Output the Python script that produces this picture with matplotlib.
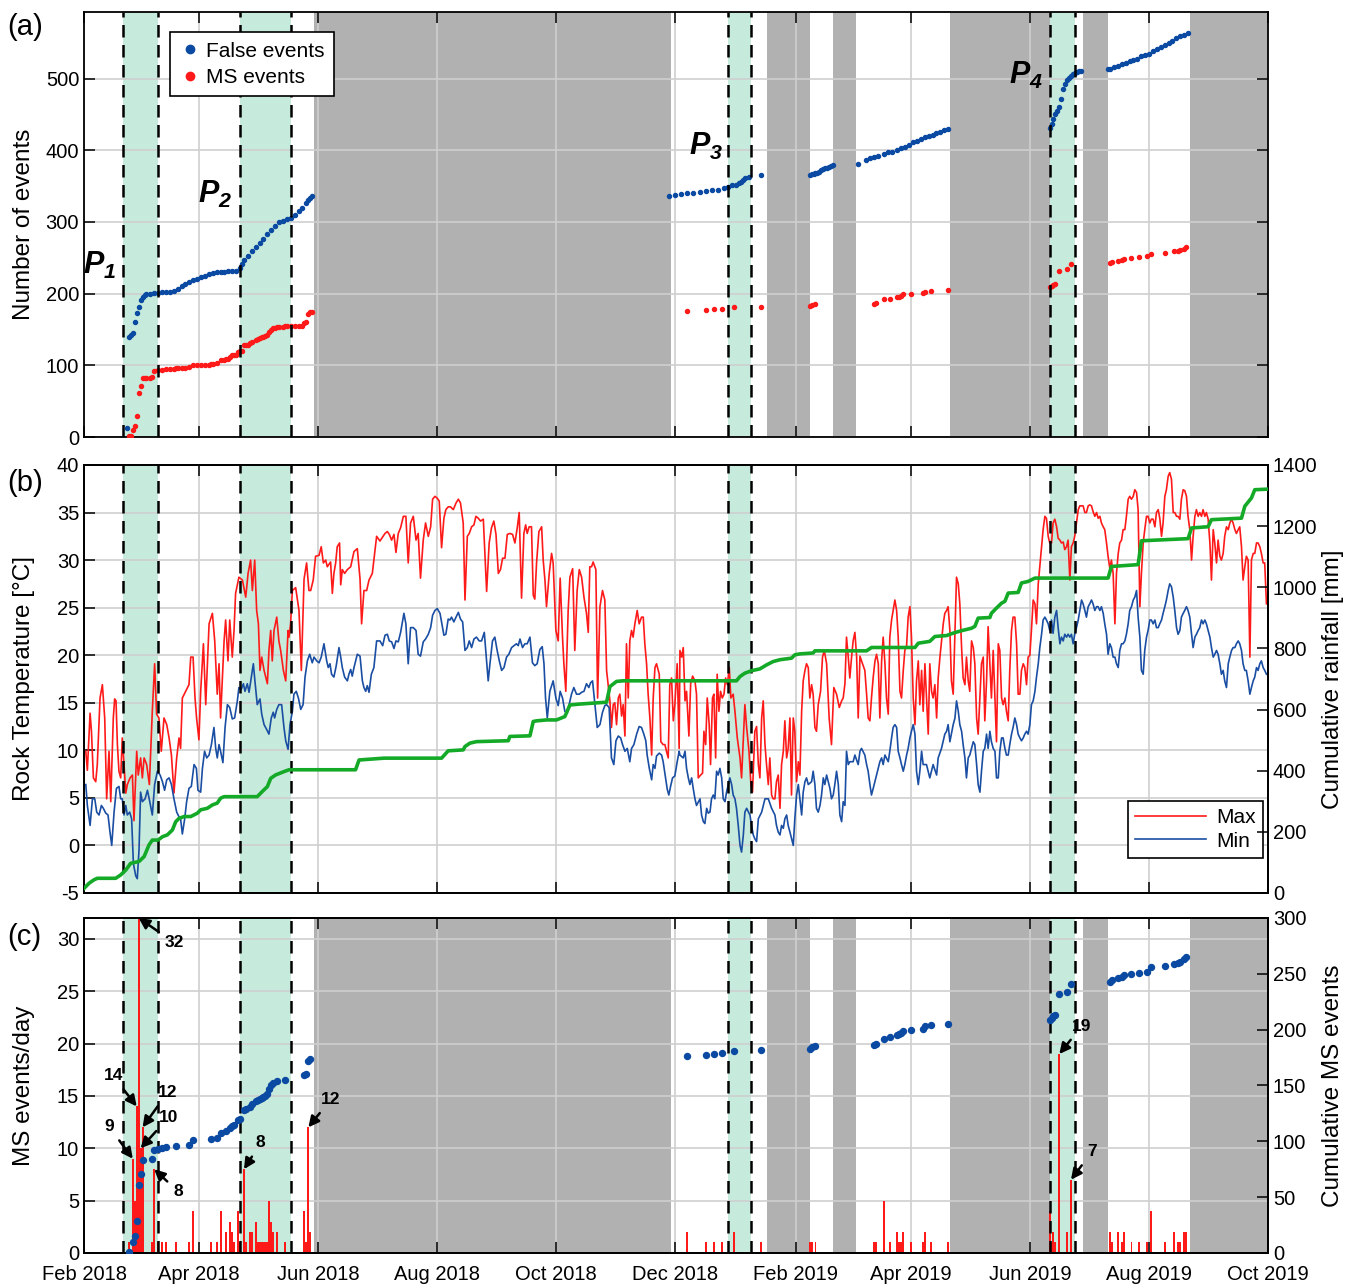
import numpy as np
import pandas as pd
import matplotlib
matplotlib.use('Agg')
import matplotlib.pyplot as plt
import matplotlib.dates as mdates
from matplotlib.lines import Line2D

plt.rcParams['font.family'] = ['Liberation Sans', 'DejaVu Sans']
plt.rcParams['mathtext.fontset'] = 'custom'
plt.rcParams['mathtext.bf'] = 'Liberation Sans:bold:italic'
plt.rcParams['axes.unicode_minus'] = False
plt.rcParams['axes.linewidth'] = 1.3

start = pd.Timestamp('2018-02-01')
end = pd.Timestamp('2019-10-01')

# monitoring periods P1..P4 and gaps in the record
periods = [('2018-02-21', '2018-03-11'), ('2018-04-22', '2018-05-18'),
           ('2018-12-28', '2019-01-09'), ('2019-06-11', '2019-06-24')]
gaps = [('2018-05-30', '2018-11-29'), ('2019-01-17', '2019-02-08'),
        ('2019-02-20', '2019-03-04'), ('2019-04-21', '2019-06-11'),
        ('2019-06-28', '2019-07-11'), ('2019-08-22', '2019-10-01')]
period_labels = [('1', '2018-02-09', 240), ('2', '2018-04-09', 338),
                 ('3', '2018-12-17', 405), ('4', '2019-05-30', 505)]

# daily MS event counts
ms_dates = ['2018-02-24', '2018-02-26', '2018-02-27', '2018-02-28', '2018-03-01', '2018-03-02',
            '2018-03-03', '2018-03-08', '2018-03-09', '2018-03-11', '2018-03-13', '2018-03-15',
            '2018-03-20', '2018-03-27', '2018-03-29', '2018-04-07', '2018-04-10', '2018-04-12',
            '2018-04-15', '2018-04-17', '2018-04-18', '2018-04-19', '2018-04-21', '2018-04-22',
            '2018-04-24', '2018-04-25', '2018-04-27', '2018-04-28', '2018-04-30', '2018-05-01',
            '2018-05-02', '2018-05-03', '2018-05-04', '2018-05-05', '2018-05-06', '2018-05-07',
            '2018-05-08', '2018-05-09', '2018-05-11', '2018-05-15', '2018-05-25', '2018-05-26',
            '2018-05-27', '2018-05-28',
            '2018-12-07', '2018-12-17', '2018-12-21', '2018-12-25', '2018-12-31', '2019-01-14',
            '2019-02-08', '2019-02-09', '2019-02-11',
            '2019-03-13', '2019-03-14', '2019-03-18', '2019-03-21', '2019-03-25', '2019-03-26',
            '2019-03-27', '2019-03-28', '2019-04-01', '2019-04-07', '2019-04-08', '2019-04-11',
            '2019-04-20',
            '2019-06-11', '2019-06-12', '2019-06-13', '2019-06-14', '2019-06-16', '2019-06-20',
            '2019-06-22',
            '2019-07-12', '2019-07-13', '2019-07-16', '2019-07-18', '2019-07-19', '2019-07-23',
            '2019-07-27', '2019-07-31', '2019-08-02', '2019-08-09', '2019-08-14', '2019-08-16',
            '2019-08-17', '2019-08-19', '2019-08-20']
ms_counts = [1, 9, 5, 14, 32, 10, 12, 1, 8, 1, 1, 1, 1, 1, 4, 1, 1, 4, 2, 3, 2, 1, 4, 1,
             8, 1, 2, 2, 3, 1, 1, 1, 1, 1, 1, 5, 3, 2, 2, 1, 4, 1, 12, 2,
             2, 1, 1, 1, 2, 1, 1, 1, 1,
             1, 1, 5, 1, 2, 1, 1, 2, 1, 1, 2, 1, 1,
             4, 1, 2, 1, 19, 2, 7,
             2, 1, 2, 1, 2, 1, 1, 1, 4, 1, 2, 1, 1, 2, 2]

# labelled peaks: date, text offset (points)
ms_notes = [('2018-02-26', -17, 23), ('2018-02-28', -17, 22), ('2018-03-01', 26, -18),
            ('2018-03-02', 20, 22), ('2018-03-03', 18, 25), ('2018-03-09', 17, -16),
            ('2018-04-24', 12, 19), ('2018-05-27', 16, 20), ('2019-06-16', 16, 20),
            ('2019-06-22', 15, 20)]

# cumulative false events
fe_dates = ['2018-02-23', '2018-02-24', '2018-02-25', '2018-02-26', '2018-02-27', '2018-02-28',
            '2018-03-01', '2018-03-02', '2018-03-03', '2018-03-04', '2018-03-05', '2018-03-07',
            '2018-03-09', '2018-03-11', '2018-03-13', '2018-03-15', '2018-03-17', '2018-03-19',
            '2018-03-21', '2018-03-23', '2018-03-25', '2018-03-27', '2018-03-29', '2018-03-31',
            '2018-04-02', '2018-04-04', '2018-04-06', '2018-04-08', '2018-04-10', '2018-04-12',
            '2018-04-14', '2018-04-16', '2018-04-18', '2018-04-20', '2018-04-22', '2018-04-23',
            '2018-04-24', '2018-04-26', '2018-04-28', '2018-04-30', '2018-05-02', '2018-05-04',
            '2018-05-06', '2018-05-08', '2018-05-10', '2018-05-12', '2018-05-14', '2018-05-16',
            '2018-05-18', '2018-05-20', '2018-05-22', '2018-05-24', '2018-05-26', '2018-05-27',
            '2018-05-28', '2018-05-29',
            '2018-11-28', '2018-12-01', '2018-12-04', '2018-12-07', '2018-12-10', '2018-12-14',
            '2018-12-17', '2018-12-20', '2018-12-23', '2018-12-26', '2018-12-28', '2018-12-30',
            '2019-01-01', '2019-01-03', '2019-01-04', '2019-01-05', '2019-01-06', '2019-01-08',
            '2019-01-14',
            '2019-02-08', '2019-02-09', '2019-02-10', '2019-02-11', '2019-02-12', '2019-02-13',
            '2019-02-14', '2019-02-15', '2019-02-16', '2019-02-17', '2019-02-18', '2019-02-19',
            '2019-02-20',
            '2019-03-05', '2019-03-09', '2019-03-11', '2019-03-13', '2019-03-15', '2019-03-18',
            '2019-03-20', '2019-03-22', '2019-03-25', '2019-03-27', '2019-03-29', '2019-03-31',
            '2019-04-02', '2019-04-04', '2019-04-06', '2019-04-08', '2019-04-10', '2019-04-12',
            '2019-04-14', '2019-04-16', '2019-04-18', '2019-04-20',
            '2019-06-11', '2019-06-12', '2019-06-13', '2019-06-14', '2019-06-15', '2019-06-16',
            '2019-06-17', '2019-06-18', '2019-06-19', '2019-06-20', '2019-06-21', '2019-06-22',
            '2019-06-23', '2019-06-24', '2019-06-25', '2019-06-26', '2019-06-27',
            '2019-07-11', '2019-07-12', '2019-07-14', '2019-07-16', '2019-07-18', '2019-07-20',
            '2019-07-22', '2019-07-24', '2019-07-26', '2019-07-28', '2019-07-30', '2019-08-01',
            '2019-08-03', '2019-08-05', '2019-08-07', '2019-08-09', '2019-08-11', '2019-08-13',
            '2019-08-15', '2019-08-17', '2019-08-19', '2019-08-21']
fe_counts = [12, 140, 142, 145, 160, 173, 181, 191, 196, 198, 200, 200,
             201, 201, 202, 202, 203, 204, 207, 210, 213, 216, 219, 220,
             223, 225, 227, 229, 230, 230, 230, 231, 231, 232, 236, 242,
             247, 253, 259, 265, 270, 276, 283, 289, 294, 300, 302, 304,
             306, 310, 315, 319, 326, 330, 333, 336,
             336, 337, 339, 340, 341, 342, 343, 344, 345, 347, 349, 351,
             352, 354, 356, 359, 361, 363, 365,
             366, 367, 367, 368, 369, 370, 372, 374, 375, 376, 377, 378, 379,
             381, 387, 389, 391, 392, 395, 397, 398, 401, 403, 405, 408,
             411, 413, 416, 418, 420, 422, 424, 426, 428, 430,
             431, 437, 443, 450, 455, 461, 472, 485, 492, 498, 501, 503,
             506, 508, 509, 510, 511,
             513, 514, 516, 518, 521, 522, 524, 526, 528, 531, 533, 535,
             538, 541, 544, 547, 550, 553, 556, 559, 561, 564]

# rock temperature, (days after 1 Feb 2018, degC)
tmax_pts = [
    (0.9, 9.9), (1.7, 7.9), (3.1, 13.9), (3.8, 12.0), (4.8, 7.1), (6.0, 6.7), (6.8, 8.5), (8.2, 15.5),
    (9.4, 16.9), (10.6, 13.4), (11.6, 4.9), (12.8, 9.9), (13.7, 4.6), (15.0, 13.4), (15.7, 15.4),
    (16.4, 15.2), (17.1, 10.6), (17.9, 7.8), (18.8, 7.1), (19.6, 11.3), (20.5, 8.5), (21.4, 5.5),
    (22.2, 6.4), (23.6, 7.1), (24.8, 7.4), (25.6, 2.6), (27.0, 9.9), (27.8, 7.4), (29.0, 9.2),
    (29.9, 7.1), (30.8, 9.2), (32.1, 8.5), (33.5, 6.4), (35.0, 14.1), (36.2, 19.1), (37.2, 13.8),
    (38.4, 13.4), (39.6, 9.9), (41.0, 13.4), (42.4, 12.7), (43.6, 11.3), (44.8, 9.5), (46.1, 5.5),
    (47.5, 9.2), (48.7, 11.3), (49.5, 10.2), (50.4, 15.5), (52.1, 16.2), (53.8, 16.9), (54.7, 19.8),
    (55.9, 19.8), (56.9, 15.5), (57.7, 13.4), (58.9, 11.1), (59.8, 16.2), (61.2, 21.2), (62.4, 14.8),
    (64.1, 23.3), (65.8, 24.4), (67.0, 21.5), (68.3, 15.9), (69.2, 19.1), (70.0, 13.4), (71.8, 21.5),
    (72.6, 23.7), (73.8, 19.4), (74.7, 23.7), (76.0, 19.8), (76.9, 22.6), (77.7, 26.5), (79.4, 28.2),
    (81.2, 27.9), (82.9, 26.1), (84.1, 28.6), (85.4, 30.0), (86.3, 26.8), (87.5, 30.0), (88.5, 24.7),
    (89.4, 23.3), (90.2, 18.4), (91.1, 19.8), (92.3, 18.4), (94.0, 17.0), (94.8, 20.5), (95.7, 22.6),
    (96.5, 19.4), (97.4, 22.6), (98.8, 24.0), (99.9, 21.5), (100.8, 20.5), (102.2, 18.4), (103.4, 17.3),
    (104.6, 22.6), (105.1, 21.9), (105.9, 23.3), (106.8, 26.8), (108.5, 27.1), (110.2, 24.7),
    (111.4, 18.4), (112.8, 28.0), (114.1, 29.7), (115.3, 26.8), (116.2, 26.8), (117.5, 27.9),
    (118.7, 30.4), (120.5, 30.5), (121.6, 31.4), (122.7, 29.7), (123.9, 30.0), (124.7, 29.3),
    (126.4, 29.8), (127.3, 26.5), (128.1, 28.6), (129.0, 29.7), (129.8, 31.4), (131.0, 31.8),
    (131.6, 27.4), (132.4, 29.0), (133.6, 28.6), (135.0, 29.0), (136.7, 29.3), (138.4, 30.9),
    (140.1, 31.2), (141.5, 28.0), (142.3, 23.3), (143.5, 26.8), (144.9, 26.8), (146.1, 27.9),
    (147.8, 28.6), (148.6, 30.0), (150.0, 32.5),
    (151.7, 32.0), (154.3, 32.8), (155.5, 33.0), (156.5, 32.7), (157.7, 32.1), (158.9, 32.7),
    (159.9, 30.8), (161.1, 32.8), (162.3, 33.4), (163.7, 34.6), (165.0, 34.6), (166.2, 29.7),
    (167.4, 33.9), (168.8, 34.6), (170.2, 32.1), (171.3, 32.8), (172.5, 28.1), (173.9, 32.1),
    (175.1, 33.9), (176.5, 32.5), (177.7, 33.5), (178.7, 36.4), (179.9, 36.7), (181.1, 36.5),
    (182.1, 36.2), (183.3, 31.3), (184.5, 34.4), (185.5, 35.3), (186.7, 35.6), (187.9, 35.6),
    (189.3, 35.3), (190.7, 36.0), (191.9, 36.4), (193.0, 36.0), (194.4, 33.9), (195.3, 25.8),
    (196.5, 32.5), (197.5, 32.8), (198.7, 33.5), (199.9, 33.7), (200.9, 34.6), (202.1, 34.4),
    (203.3, 34.1), (204.7, 34.3), (206.4, 26.7), (207.7, 31.8), (208.9, 33.4), (210.1, 34.1),
    (211.2, 32.7), (212.4, 28.6), (213.5, 29.0), (214.6, 30.2), (215.8, 30.2), (217.0, 32.7),
    (218.3, 32.8), (219.7, 32.7), (220.9, 31.8), (222.1, 33.4), (223.1, 35.0), (224.3, 26.0),
    (225.5, 32.8), (226.4, 33.7), (227.2, 32.8), (228.2, 33.5), (229.4, 33.5), (230.3, 26.3),
    (231.1, 25.9), (232.0, 29.7), (233.2, 33.0), (234.6, 33.5), (235.4, 30.0), (236.3, 27.9),
    (237.1, 25.1), (238.5, 28.6), (239.7, 30.7), (240.5, 29.7), (241.9, 22.6), (243.1, 21.5),
    (244.1, 28.1), (245.3, 21.9), (246.0, 19.1), (247.0, 16.2), (248.2, 24.7), (249.1, 28.2),
    (250.5, 29.1), (251.6, 20.5), (252.8, 26.8), (253.9, 29.0), (255.1, 28.2), (256.3, 26.1),
    (257.6, 24.4), (258.5, 22.4), (259.3, 29.3), (260.2, 29.3), (261.0, 29.8), (262.4, 29.0),
    (263.3, 15.5), (264.5, 25.1), (265.8, 26.8), (267.0, 25.8), (267.9, 18.4), (269.6, 15.2),
    (270.4, 12.4), (271.3, 14.8), (272.1, 15.0), (273.0, 12.7), (273.9, 15.5), (274.7, 15.9),
    (275.6, 13.6), (276.4, 14.8), (277.3, 11.5), (278.1, 21.2), (279.0, 15.5), (279.8, 21.5),
    (280.7, 22.6), (281.5, 21.9), (282.4, 23.3), (283.6, 24.7), (284.6, 23.3), (285.8, 24.0),
    (286.7, 24.0), (287.5, 21.2), (288.4, 19.1), (289.2, 15.9), (290.1, 13.4), (291.0, 9.5),
    (291.8, 15.5), (292.7, 18.7), (293.5, 19.1), (294.9, 18.0), (295.7, 10.9), (296.9, 10.6),
    (297.8, 10.6), (298.6, 9.9), (299.5, 9.2), (300.3, 16.9), (301.2, 17.6), (302.1, 13.1),
    (302.9, 14.8), (304.1, 19.1), (305.1, 10.2),
    (305.5, 20.5), (306.4, 19.8), (307.2, 20.8), (308.1, 15.2), (308.9, 16.2), (310.1, 11.5),
    (311.0, 17.0), (312.0, 17.8), (313.2, 17.3), (314.0, 15.9), (314.9, 7.1), (316.1, 7.4),
    (317.1, 7.6), (317.8, 12.0), (318.7, 10.6), (319.5, 15.5), (320.5, 12.7), (321.2, 8.5),
    (322.2, 15.5), (322.9, 15.9), (323.8, 9.2), (324.6, 18.0), (325.5, 14.1), (326.3, 16.2),
    (327.2, 15.5), (328.1, 15.9), (328.9, 17.6), (329.8, 16.9), (330.8, 18.7), (331.6, 15.5),
    (332.8, 15.9), (333.7, 14.1), (334.9, 11.3), (336.3, 9.2), (337.1, 7.1), (338.0, 11.3),
    (338.8, 14.8), (339.7, 12.4), (340.9, 9.9), (341.9, 6.4), (342.7, 5.6), (343.9, 12.0),
    (344.8, 12.5), (345.7, 8.5), (346.5, 7.1), (347.4, 13.4), (348.2, 15.2), (349.1, 10.6),
    (349.9, 8.5), (350.8, 6.4), (351.6, 9.2), (352.5, 5.3), (353.3, 4.9), (354.2, 4.9),
    (355.0, 6.7), (355.9, 7.4), (356.8, 3.9), (357.6, 8.5), (358.5, 9.9), (359.3, 13.1),
    (360.2, 9.2), (361.0, 10.2), (361.9, 13.4), (362.7, 5.3), (363.6, 13.4), (364.4, 12.0),
    (365.3, 6.7), (366.2, 8.8), (367.0, 7.4), (367.9, 14.1), (368.7, 17.3), (369.6, 18.4),
    (370.4, 19.1), (371.3, 18.7), (372.1, 15.5), (373.0, 16.9), (373.8, 15.9), (374.7, 12.4),
    (375.5, 12.0), (376.4, 14.8), (377.6, 16.2), (378.6, 19.8), (379.5, 20.5), (380.7, 19.1),
    (382.0, 13.4), (383.2, 10.6), (384.4, 16.6), (385.8, 15.9), (387.2, 14.5), (388.4, 15.2),
    (389.2, 15.5), (390.1, 17.0), (390.9, 21.9), (391.8, 19.8), (392.6, 17.6), (393.5, 19.8),
    (394.3, 21.5), (395.2, 22.4), (396.1, 19.8), (396.9, 13.4), (397.8, 19.9), (399.1, 19.1),
    (400.3, 18.4), (401.2, 15.9), (402.0, 13.4), (402.9, 13.1), (403.7, 15.5), (404.6, 17.7),
    (405.5, 19.4), (406.3, 20.1), (407.2, 19.1), (408.0, 13.4), (408.9, 19.4), (409.7, 21.9),
    (410.6, 19.1), (411.4, 15.5), (412.3, 13.8), (413.1, 21.9), (414.0, 23.7), (414.8, 24.7),
    (415.7, 25.8), (416.6, 24.7), (417.4, 21.9), (418.3, 16.2), (419.1, 15.5), (420.0, 18.4),
    (420.8, 20.5), (421.7, 21.0), (422.5, 24.0), (423.4, 25.1), (424.2, 21.9), (425.1, 15.5),
    (426.0, 12.7), (426.8, 17.3), (427.7, 19.4), (428.5, 14.8), (429.4, 18.4), (430.2, 14.1),
    (431.1, 19.1), (431.9, 15.5), (432.8, 11.7), (433.6, 19.1), (434.5, 16.2), (435.3, 15.5),
    (436.2, 16.9), (437.1, 13.4), (437.9, 17.6), (438.8, 19.8), (439.6, 21.5), (440.5, 23.3),
    (441.3, 24.4), (442.2, 24.7), (443.0, 25.1), (443.9, 22.6), (444.7, 17.3), (445.6, 15.9),
    (446.5, 22.6), (447.3, 28.2), (448.2, 27.5), (449.0, 25.4), (449.9, 20.8), (450.7, 17.6),
    (451.6, 16.9), (452.4, 19.8), (453.3, 17.3), (454.1, 16.2), (455.0, 21.5), (455.9, 20.8),
    (456.7, 19.1), (457.6, 13.4), (458.4, 11.7), (459.3, 15.5), (460.1, 19.1), (461.0, 19.8),
    (461.8, 13.1), (462.7, 17.3), (463.5, 23.0), (464.4, 19.1), (465.2, 15.5), (466.1, 20.5),
    (467.0, 15.5), (467.8, 10.9), (468.7, 21.2), (469.5, 20.5), (470.4, 15.5), (471.2, 14.8),
    (472.1, 15.5), (472.9, 14.1), (473.8, 13.1), (474.6, 18.4), (475.5, 22.6), (476.3, 24.0),
    (477.2, 24.0), (478.1, 21.2), (478.9, 15.9), (479.8, 15.9), (480.6, 18.4), (481.5, 19.1),
    (482.3, 18.7), (483.2, 16.9), (484.0, 19.8), (484.9, 20.0), (485.7, 22.6), (486.6, 25.8),
    (487.5, 25.4), (488.3, 23.3), (489.2, 27.5), (490.0, 29.3), (490.9, 31.4), (491.7, 33.2),
    (492.6, 34.6), (493.4, 34.4), (494.3, 32.5), (495.1, 31.8), (496.0, 31.8), (496.8, 33.9),
    (497.7, 34.3), (498.6, 33.5), (499.4, 32.3), (500.3, 32.1), (501.1, 31.8), (502.0, 31.9),
    (502.8, 31.1), (503.7, 31.4), (504.5, 32.1), (505.4, 27.9), (506.2, 31.4), (507.1, 31.8),
    (507.9, 32.5), (508.8, 33.9), (509.7, 35.3), (510.5, 35.7), (511.4, 35.7), (512.2, 35.7),
    (513.1, 35.0), (513.9, 35.0), (514.8, 35.7), (515.6, 35.8), (516.5, 35.7), (517.3, 35.1),
    (518.2, 34.6), (519.1, 35.0), (519.9, 34.4), (520.8, 34.6), (521.6, 33.9), (522.5, 33.5),
    (523.3, 33.2), (524.2, 31.8), (525.0, 30.4), (525.9, 29.1), (526.7, 30.0), (527.6, 28.6),
    (528.5, 23.3), (529.3, 28.6), (530.2, 30.7), (531.0, 31.8), (531.9, 32.1), (532.7, 33.2),
    (533.6, 33.2), (534.4, 34.6), (535.3, 36.4), (536.1, 36.7), (537.0, 36.4), (537.9, 36.7),
    (538.7, 37.4), (539.6, 37.1), (540.4, 35.3), (541.3, 25.1), (542.1, 28.6), (543.0, 31.8),
    (543.8, 33.2), (544.7, 34.6), (545.5, 34.6), (546.4, 33.9), (547.2, 34.3), (548.1, 34.3),
    (549.0, 33.5), (549.8, 35.0), (550.7, 35.3), (551.5, 34.4), (552.4, 32.5), (553.2, 33.9),
    (554.1, 36.7), (554.9, 37.4), (555.8, 38.8), (556.6, 39.2), (557.5, 38.5), (558.4, 35.0),
    (559.2, 35.0), (560.1, 34.6), (560.9, 34.6), (561.8, 34.3), (562.6, 36.4), (563.5, 37.4),
    (564.3, 37.3), (565.2, 36.7), (566.0, 34.6), (566.9, 33.2), (567.8, 30.0), (568.6, 32.5),
    (569.5, 34.6), (570.3, 35.3), (571.2, 34.6), (572.0, 35.0), (572.9, 34.6), (573.7, 35.3),
    (574.6, 34.6), (575.4, 35.0), (576.3, 34.3), (577.2, 31.8), (578.0, 27.9), (578.9, 33.2),
    (579.7, 31.8), (580.6, 29.7), (581.4, 32.1), (582.3, 30.4), (583.1, 30.0), (584.0, 30.7),
    (584.8, 32.5), (585.7, 33.5), (586.6, 33.2), (587.4, 33.9), (588.3, 34.3), (589.1, 33.9),
    (590.0, 33.2), (590.8, 32.8), (591.7, 33.2), (592.5, 33.5), (593.4, 31.4), (594.2, 27.9),
    (595.1, 29.3), (595.9, 30.4), (596.8, 30.0), (597.7, 19.8), (598.5, 30.0), (599.4, 30.7),
    (600.2, 30.7), (601.1, 31.8), (601.9, 31.8), (602.8, 31.4), (603.6, 30.7), (604.5, 29.7),
    (605.3, 29.7), (606.2, 25.4)]

tmin_pts = [
    (0.9, 6.4), (1.7, 4.2), (3.1, 2.1), (4.3, 4.9), (5.5, 4.9), (6.5, 3.5), (7.7, 3.2), (8.9, 4.2),
    (9.9, 3.9), (11.1, 3.4), (12.3, 3.2), (13.3, 1.4), (14.2, 0.0), (15.4, 3.5), (16.6, 6.0),
    (17.9, 6.2), (18.8, 4.9), (19.6, 4.9), (20.5, 3.2), (21.4, 4.2), (22.2, 3.2), (23.4, 3.5),
    (24.4, 2.8), (25.3, -1.9), (26.5, -3.2), (27.3, -3.5), (28.2, -0.4), (29.0, 5.6), (29.9, 4.6),
    (31.3, 4.9), (32.5, 5.8), (33.7, 4.6), (35.0, 3.2), (36.2, 6.4), (37.6, 7.8), (39.0, 7.4),
    (40.2, 6.7), (41.3, 5.8), (42.4, 6.9), (43.6, 7.1), (44.8, 6.4), (46.1, 4.9), (47.5, 3.5),
    (48.7, 3.0), (49.5, 2.8), (50.4, 1.2), (51.6, 2.8), (52.6, 4.6), (53.8, 6.0), (55.0, 6.2),
    (56.4, 8.5), (57.6, 8.1), (58.4, 5.8), (59.8, 5.6), (60.7, 8.1), (61.8, 9.9), (62.9, 9.2),
    (64.1, 9.5), (65.3, 10.6), (66.6, 12.4), (67.5, 10.2), (68.3, 9.2), (69.2, 10.6), (70.0, 9.9),
    (71.2, 8.7), (72.3, 12.4), (73.5, 14.8), (74.7, 14.5), (76.0, 13.3), (77.2, 13.4), (78.6, 15.2),
    (79.4, 16.6), (80.6, 16.4), (81.7, 17.0), (82.5, 16.2), (83.7, 17.0), (84.6, 16.1), (85.8, 17.7),
    (86.8, 19.1), (87.6, 17.3), (88.8, 14.8), (90.2, 15.4), (91.1, 13.8), (92.3, 12.7), (93.6, 12.2),
    (94.8, 11.7), (96.0, 13.4), (97.0, 14.0), (97.7, 13.4), (98.8, 14.3), (99.9, 14.8), (101.3, 14.8),
    (102.5, 12.4), (103.4, 11.0), (104.6, 10.1), (105.6, 12.7), (106.8, 14.1), (107.6, 15.9),
    (108.8, 16.2), (109.9, 15.5), (111.1, 14.3), (112.3, 14.8), (113.3, 17.7), (114.5, 19.4),
    (115.7, 20.1), (117.0, 19.2), (117.9, 19.8), (119.3, 19.4), (120.5, 19.2), (121.6, 19.8),
    (123.0, 21.2), (124.4, 19.4), (125.2, 18.7), (126.1, 19.1), (126.9, 18.0), (128.1, 17.7),
    (129.3, 18.9), (130.7, 20.8), (131.6, 19.8), (132.4, 18.7), (133.6, 17.7), (135.0, 17.3),
    (135.8, 18.0), (136.7, 18.5), (137.5, 17.8), (138.4, 18.7), (140.1, 20.1), (141.5, 19.9),
    (142.7, 17.3), (143.5, 16.6), (144.4, 16.2), (145.2, 16.8), (146.1, 16.1), (147.3, 18.0),
    (148.6, 18.7), (150.0, 21.5),
    (151.7, 21.5), (153.1, 21.0), (154.3, 22.1), (155.5, 22.2), (156.5, 21.5), (157.7, 21.4),
    (158.9, 20.7), (159.9, 21.5), (161.1, 21.4), (162.3, 22.4), (164.0, 24.4), (165.0, 23.3),
    (166.2, 19.1), (167.4, 22.9), (168.8, 22.9), (170.2, 22.6), (171.3, 20.1), (172.5, 19.9),
    (173.9, 21.4), (175.1, 21.7), (176.5, 22.2), (177.7, 22.9), (178.7, 24.2), (179.9, 24.7),
    (181.1, 24.9), (182.5, 24.4), (183.3, 23.5), (184.5, 22.1), (185.5, 22.2), (186.7, 23.8),
    (187.6, 23.7), (188.4, 24.0), (189.6, 23.5), (190.7, 24.0), (191.9, 24.5), (193.0, 23.8),
    (194.1, 23.5), (195.3, 20.5), (196.5, 20.8), (197.5, 21.5), (198.7, 20.8), (199.9, 21.7),
    (201.2, 21.9), (202.6, 21.5), (203.8, 21.5), (205.2, 22.4), (206.4, 19.4), (207.2, 17.3),
    (208.1, 19.1), (209.4, 21.5), (210.6, 21.9), (211.8, 20.5), (212.9, 19.4), (214.1, 18.4),
    (215.3, 18.7), (216.6, 19.8), (217.8, 20.1), (219.2, 20.8), (220.4, 21.0), (221.7, 21.2),
    (222.6, 21.0), (223.5, 21.7), (224.8, 20.8), (226.0, 21.2), (227.2, 21.2), (228.6, 21.9),
    (229.9, 19.2), (231.1, 18.9), (232.3, 19.1), (233.7, 20.6), (234.9, 20.9), (235.8, 19.1),
    (236.6, 15.5), (237.5, 13.4), (238.8, 16.2), (240.5, 17.3), (241.9, 15.5), (243.1, 14.7),
    (244.1, 16.2), (245.3, 15.5), (246.5, 14.1), (247.7, 13.9), (248.7, 14.8), (249.9, 15.9),
    (251.1, 16.6), (252.5, 15.9), (253.9, 15.9), (255.1, 16.1), (256.3, 16.2), (257.6, 17.0),
    (258.8, 16.6), (259.7, 17.1), (260.7, 17.3), (261.9, 14.8), (263.1, 12.4), (264.5, 12.7),
    (265.8, 14.0), (267.0, 14.7), (267.9, 14.8), (269.2, 14.5), (270.4, 9.2), (271.6, 8.5),
    (272.7, 11.0), (273.9, 11.5), (275.1, 11.3), (276.1, 10.6), (277.3, 9.9), (278.5, 10.2),
    (279.8, 8.8), (280.7, 10.2), (281.9, 10.6), (283.3, 11.7), (284.6, 12.5), (285.8, 12.4),
    (287.0, 11.7), (288.0, 11.0), (288.7, 9.5), (289.8, 8.1), (291.0, 6.9), (291.8, 8.5),
    (292.7, 8.1), (293.5, 9.4), (294.9, 9.7), (296.1, 9.5), (296.9, 8.8), (298.1, 7.1),
    (299.0, 5.9), (299.8, 5.3), (300.7, 6.2), (301.7, 7.1), (302.9, 7.3), (304.1, 8.8),
    (305.1, 9.9),
    (305.5, 9.5), (307.2, 9.2), (308.1, 9.9), (308.9, 8.1), (309.8, 7.1), (310.6, 6.4),
    (311.5, 7.1), (312.3, 6.0), (313.2, 4.9), (314.0, 4.2), (315.8, 4.9), (316.6, 3.2),
    (317.5, 2.5), (318.3, 2.3), (319.2, 3.9), (320.0, 3.4), (320.9, 3.5), (321.7, 4.9),
    (322.6, 5.3), (323.4, 4.9), (324.3, 7.8), (325.1, 7.4), (326.0, 8.1), (326.9, 7.1),
    (327.7, 4.9), (328.6, 4.6), (329.4, 5.6), (330.3, 6.4), (331.1, 7.1), (332.0, 6.4),
    (332.8, 5.3), (333.7, 4.9), (334.5, 3.9), (335.4, 2.1), (336.3, 0.0), (337.1, -0.7),
    (338.0, 1.1), (338.8, 3.5), (339.7, 3.9), (341.4, 3.2), (342.2, 2.1), (343.1, 1.1),
    (343.9, 0.7), (344.8, 0.4), (345.7, 2.8), (347.4, 3.5), (349.1, 4.9), (350.8, 4.9),
    (352.5, 3.9), (354.2, 3.2), (355.0, 2.1), (355.9, 1.4), (356.8, 1.1), (357.6, 2.1),
    (358.5, 1.8), (359.3, 2.8), (360.2, 3.2), (361.0, 2.1), (361.9, 1.4), (363.6, 0.0),
    (364.4, 2.8), (365.3, 5.3), (366.2, 6.4), (367.0, 4.9), (367.9, 3.2), (368.7, 5.6),
    (369.6, 6.7), (370.4, 7.1), (371.3, 6.4), (373.0, 6.7), (373.8, 7.8), (374.7, 6.4),
    (375.5, 3.9), (376.4, 3.5), (377.3, 4.2), (378.1, 5.3), (379.0, 7.1), (379.8, 6.4),
    (380.7, 7.4), (382.4, 6.0), (383.2, 4.9), (384.1, 5.3), (384.9, 6.4), (385.8, 7.8),
    (386.7, 6.4), (387.5, 3.2), (388.4, 2.5), (389.2, 4.6), (390.1, 4.2), (390.9, 9.9),
    (391.8, 8.5), (392.6, 8.8), (394.3, 8.8), (395.2, 9.5), (396.9, 8.5), (397.8, 9.9),
    (398.6, 10.2), (400.3, 9.5), (401.2, 8.5), (402.0, 7.8), (402.9, 6.4), (403.7, 5.3),
    (404.6, 6.0), (406.3, 7.4), (407.2, 8.1), (408.0, 8.8), (408.9, 9.2), (409.7, 8.5),
    (410.6, 9.5), (412.3, 8.8), (413.1, 9.9), (414.0, 11.3), (414.8, 12.4), (415.7, 12.7),
    (416.6, 12.4), (417.4, 9.9), (418.3, 9.2), (419.1, 8.5), (420.0, 7.8), (420.8, 8.5),
    (421.7, 9.5), (422.5, 10.2), (423.4, 11.3), (424.2, 12.0), (425.1, 12.7), (426.0, 11.7),
    (426.8, 7.8), (427.7, 6.4), (428.5, 7.8), (429.4, 9.9), (430.2, 8.5), (431.9, 8.5),
    (433.6, 7.1), (435.3, 8.5), (437.1, 7.4), (437.9, 9.2), (439.6, 10.2), (441.3, 11.7),
    (442.2, 12.0), (443.0, 12.7), (443.9, 10.9), (445.6, 12.7), (446.5, 13.4), (447.3, 15.2),
    (448.2, 14.1), (449.0, 12.7), (449.9, 12.0), (450.7, 10.6), (451.6, 9.2), (452.4, 7.1),
    (453.3, 9.2), (454.1, 9.5), (455.0, 10.2), (455.9, 10.9),
    (456.7, 10.6), (457.6, 8.5), (458.4, 6.4), (459.3, 5.6), (460.1, 7.8), (461.0, 9.9),
    (461.8, 10.2), (462.7, 11.7), (463.5, 10.2), (464.4, 12.0), (465.2, 10.9), (466.1, 10.2),
    (467.0, 9.9), (467.8, 7.1), (468.7, 7.1), (469.5, 9.9), (470.4, 11.3), (471.2, 11.3),
    (472.1, 10.2), (472.9, 9.5), (473.8, 9.5), (474.6, 10.6), (475.5, 11.7), (476.3, 12.4),
    (477.2, 13.4), (478.1, 12.7), (478.9, 11.7), (479.8, 11.3), (480.6, 11.0), (481.5, 11.3),
    (482.3, 11.7), (483.2, 12.0), (484.0, 11.7), (484.9, 12.7), (485.7, 14.8), (486.6, 15.2),
    (487.5, 16.2), (488.3, 17.7), (489.2, 19.1), (490.0, 20.8), (490.9, 22.2), (491.7, 23.7),
    (492.6, 24.0), (493.4, 23.7), (494.3, 23.3), (495.1, 22.6), (496.0, 23.7), (496.8, 22.3),
    (497.7, 24.0), (498.6, 24.7), (499.4, 22.9), (500.3, 21.2), (501.1, 21.9), (502.0, 21.5),
    (502.8, 22.2), (503.7, 21.9), (504.5, 22.2), (505.4, 21.9), (506.2, 22.2), (507.1, 21.2),
    (507.9, 22.2), (508.8, 22.9), (509.7, 23.7), (510.5, 24.7), (511.4, 25.8), (512.2, 25.4),
    (513.1, 24.7), (513.9, 24.0), (514.8, 25.1), (515.6, 25.4), (516.5, 25.8), (517.3, 25.4),
    (518.2, 24.7), (519.1, 25.1), (519.9, 25.1), (520.8, 24.7), (521.6, 25.1), (522.5, 24.4),
    (523.3, 23.3), (524.2, 22.2), (525.0, 20.1), (525.9, 21.2), (526.7, 20.8), (527.6, 19.8),
    (528.5, 19.8), (529.3, 19.1), (530.2, 18.7), (531.0, 20.5), (531.9, 21.2), (532.7, 21.2),
    (533.6, 21.5), (534.4, 22.2), (535.3, 23.3), (536.1, 24.7), (537.0, 25.1), (537.9, 25.8),
    (538.7, 26.1), (539.6, 26.8), (540.4, 24.0), (541.3, 21.9), (542.1, 18.4), (543.0, 18.0),
    (543.8, 20.5), (544.7, 21.9), (545.5, 22.6), (546.4, 23.7), (547.2, 23.7), (548.1, 23.3),
    (549.0, 23.7), (549.8, 22.9), (550.7, 22.9), (551.5, 23.3), (552.4, 23.7), (553.2, 24.4),
    (554.1, 25.1), (554.9, 25.8), (555.8, 26.8), (556.6, 27.5), (557.5, 27.2), (558.4, 26.1),
    (559.2, 24.7), (560.1, 22.9), (560.9, 22.2), (561.8, 22.6), (562.6, 24.0), (563.5, 24.4),
    (564.3, 24.7), (565.2, 25.1), (566.0, 24.7), (566.9, 24.0), (567.8, 22.2), (568.6, 20.8),
    (569.5, 21.9), (570.3, 22.2), (571.2, 22.6), (572.0, 22.9), (572.9, 23.7), (573.7, 23.3),
    (574.6, 23.7), (575.4, 23.3), (576.3, 22.6), (577.2, 21.9), (578.0, 20.8), (578.9, 19.8),
    (579.7, 20.1), (580.6, 20.5), (581.4, 20.1), (582.3, 19.1), (583.1, 18.0), (584.0, 18.4),
    (584.8, 17.3), (585.7, 16.6), (586.6, 19.1), (587.4, 19.8), (588.3, 20.5), (589.1, 20.8),
    (590.0, 20.8), (590.8, 21.2), (591.7, 21.5), (592.5, 21.2), (593.4, 20.5), (594.2, 19.1),
    (595.1, 18.4), (595.9, 18.4), (596.8, 17.3), (597.7, 15.9), (598.5, 16.6), (599.4, 17.3),
    (600.2, 17.7), (601.1, 18.7), (601.9, 18.4), (602.8, 19.1), (603.6, 19.4), (604.5, 18.7),
    (605.3, 18.4), (606.2, 18.0)]

# cumulative rainfall, (days after 1 Feb 2018, mm)
rain_pts = [
    (0.0, 15), (2.6, 32), (5.1, 43), (6.8, 48), (16.2, 48), (18.8, 59), (21.4, 75), (23.9, 97),
    (28.2, 103), (30.8, 119), (33.3, 157), (35.0, 173), (37.9, 173), (40.2, 184), (42.7, 190),
    (45.3, 206), (47.0, 233), (48.7, 244), (51.3, 250), (54.7, 250), (58.1, 261), (59.8, 272),
    (63.2, 277), (65.8, 288), (68.3, 294), (70.0, 310), (71.8, 315), (88.8, 315), (91.4, 332),
    (94.0, 348), (95.7, 375), (98.2, 386), (102.5, 397), (105.1, 403), (139.2, 403), (141.0, 435),
    (153.8, 441), (183.3, 441), (186.7, 465), (194.4, 468), (195.3, 479), (197.8, 490),
    (201.2, 495), (217.5, 498), (218.3, 512), (228.6, 514), (230.3, 561), (232.0, 563),
    (237.1, 566), (242.2, 566), (246.5, 577), (249.1, 615), (254.2, 618), (267.9, 624),
    (269.6, 675), (273.0, 692), (276.4, 694), (334.5, 694), (336.3, 708), (338.8, 719),
    (342.2, 727), (346.5, 733), (349.9, 746), (353.3, 757), (356.8, 763), (362.7, 768),
    (364.4, 779), (367.0, 782), (373.8, 785), (374.7, 792), (401.2, 792), (403.7, 803),
    (426.0, 803), (427.7, 817), (433.6, 823), (436.2, 839), (442.2, 842), (445.6, 850),
    (449.9, 858), (455.0, 866), (456.7, 872), (458.4, 899), (464.4, 901), (465.2, 915),
    (467.8, 932), (470.4, 948), (472.1, 954), (473.8, 981), (478.9, 983), (480.6, 1014),
    (484.0, 1019), (487.5, 1030), (525.0, 1030), (526.7, 1068), (540.4, 1074), (542.1, 1152),
    (566.0, 1159), (567.8, 1194), (576.3, 1198), (578.0, 1221), (593.4, 1226), (595.1, 1265),
    (598.5, 1292), (600.2, 1319), (606.9, 1321)]

RED = '#ff1a1a'
BLUE = '#1a4ea3'
DOT_BLUE = '#0b4aa2'
GREEN = '#14aa28'
MINT = '#c6eadb'
GREY = '#b1b1b1'
LABEL_FS = 17.5


def to_dates(pts):
    d = np.array([p[0] for p in pts])
    v = np.array([p[1] for p in pts])
    return (start + pd.to_timedelta(d, unit='D')).to_numpy(), v


def decorate(ax, with_gaps):
    if with_gaps:
        for a, b in gaps:
            ax.axvspan(pd.Timestamp(a), pd.Timestamp(b), color=GREY, lw=0, zorder=0.6)
    for a, b in periods:
        ax.axvspan(pd.Timestamp(a), pd.Timestamp(b), color=MINT, lw=0, zorder=0.7)
        for t in (a, b):
            ax.axvline(pd.Timestamp(t), color='k', lw=1.8, ls=(0, (5, 3)), zorder=4)
    ax.set_xlim(start, end)
    ax.xaxis.set_major_locator(mdates.MonthLocator(bymonth=(2, 4, 6, 8, 10, 12)))
    ax.xaxis.set_major_formatter(mdates.DateFormatter('%b %Y'))
    ax.grid(True, color='#cfcfcf', lw=1.2)
    ax.tick_params(direction='in', length=8, width=1.1, top=True, labelsize=14.5)


ms_dt = pd.to_datetime(ms_dates).to_numpy()
ms_cum = np.cumsum(ms_counts)
fe_dt = pd.to_datetime(fe_dates).to_numpy()

# running MS total: spring 2018 was logged on every false-event day too,
# later campaigns only on MS event days
dense_end = np.datetime64('2018-06-01')
log_dt = np.union1d(ms_dt, fe_dt[fe_dt < dense_end])
log_ms = np.concatenate([[0], ms_cum])[np.searchsorted(ms_dt, log_dt, side='right')]
keep = log_ms > 0
log_dt, log_ms = log_dt[keep], log_ms[keep]

fig = plt.figure(figsize=(13.62, 12.88), dpi=100)
L, W = 0.0617, 0.8693
ax_a = fig.add_axes([L, 0.6607, W, 0.3300])
ax_b = fig.add_axes([L, 0.3067, W, 0.3323])
ax_c = fig.add_axes([L, 0.0272, W, 0.2601])

# (a) cumulative false and MS events
decorate(ax_a, True)
ax_a.plot(fe_dt, fe_counts, ls='none', marker='o', ms=2.9, color=DOT_BLUE, zorder=3)
ax_a.plot(log_dt, log_ms, ls='none', marker='o', ms=2.9, color=RED, zorder=3)
ax_a.set_ylim(0, 593)
ax_a.set_yticks(np.arange(0, 501, 100))
ax_a.tick_params(right=True, labelbottom=False)
ax_a.set_ylabel('Number of events', fontsize=LABEL_FS)
ax_a.yaxis.set_label_coords(-0.041, 0.5)
for num, day, yv in period_labels:
    ax_a.text(pd.Timestamp(day), yv, r'$\mathbf{P_%s}$' % num, fontsize=22,
              ha='center', va='center', zorder=5)
leg_handles = [Line2D([], [], ls='none', marker='o', ms=6, color=DOT_BLUE),
               Line2D([], [], ls='none', marker='o', ms=6, color=RED)]
leg = ax_a.legend(leg_handles, ['False events', 'MS events'], loc='upper left',
                  bbox_to_anchor=(0.0726, 0.952), borderaxespad=0, fontsize=15,
                  fancybox=False, edgecolor='k', framealpha=1, handletextpad=0.3,
                  handlelength=1.0, borderpad=0.45, labelspacing=0.35)
leg.get_frame().set_linewidth(1.2)
leg.set_zorder(6)

# (b) rock temperature and cumulative rainfall
decorate(ax_b, False)
tx_dt, tx = to_dates(tmax_pts)
tn_dt, tn = to_dates(tmin_pts)
ax_b.plot(tx_dt, tx, color=RED, lw=1.2, label='Max', zorder=3)
ax_b.plot(tn_dt, tn, color=BLUE, lw=1.2, label='Min', zorder=3)
ax_b.set_ylim(-5, 40)
ax_b.set_yticks(np.arange(-5, 41, 5))
ax_b.tick_params(labelbottom=False)
ax_b.set_ylabel('Rock Temperature [°C]', fontsize=LABEL_FS)
ax_b.yaxis.set_label_coords(-0.041, 0.5)
leg_b = ax_b.legend(loc='lower right', bbox_to_anchor=(0.9958, 0.082), borderaxespad=0,
                    fontsize=15, fancybox=False, edgecolor='k', framealpha=1,
                    handlelength=3.4, handletextpad=0.5, borderpad=0.35, labelspacing=0.2)
leg_b.get_frame().set_linewidth(1.2)

ax_b2 = ax_b.twinx()
r_dt, r = to_dates(rain_pts)
ax_b2.plot(r_dt, r, color=GREEN, lw=2.6, zorder=3)
ax_b2.set_ylim(0, 1400)
ax_b2.set_yticks(np.arange(0, 1401, 200))
ax_b2.tick_params(direction='in', length=8, width=1.1, labelsize=14.5)
ax_b2.set_ylabel('Cumulative rainfall [mm]', fontsize=LABEL_FS)
ax_b2.yaxis.set_label_coords(1.046, 0.5)

# (c) daily and cumulative MS events
decorate(ax_c, True)
ax_c.bar(ms_dt, ms_counts, width=1.0, color=RED, lw=0, zorder=2)
ax_c.set_ylim(0, 32)
ax_c.set_yticks(np.arange(0, 31, 5))
ax_c.tick_params(axis='x', pad=9)
ax_c.set_ylabel('MS events/day', fontsize=LABEL_FS)
ax_c.yaxis.set_label_coords(-0.041, 0.5)
ms_lookup = dict(zip(ms_dates, ms_counts))
for day, ox, oy in ms_notes:
    n = ms_lookup[day]
    ax_c.annotate(str(n), xy=(pd.Timestamp(day), n), xytext=(ox, oy),
                  textcoords='offset points', ha='center', va='center',
                  fontsize=12.5, fontweight='bold', zorder=6,
                  arrowprops=dict(arrowstyle='-|>', color='k', lw=1.8,
                                  mutation_scale=16, shrinkA=3, shrinkB=0))

ax_c2 = ax_c.twinx()
ax_c2.plot(ms_dt, ms_cum, ls='none', marker='o', ms=4.3, color=DOT_BLUE, zorder=3)
ax_c2.set_ylim(0, 300)
ax_c2.set_yticks(np.arange(0, 301, 50))
ax_c2.tick_params(direction='in', length=8, width=1.1, labelsize=14.5)
ax_c2.set_ylabel('Cumulative MS events', fontsize=LABEL_FS)
ax_c2.yaxis.set_label_coords(1.046, 0.5)

for lab, yy in (('(a)', 0.979), ('(b)', 0.625), ('(c)', 0.2725)):
    fig.text(0.005, yy, lab, fontsize=21, va='center', ha='left')

fig.savefig('out.png', dpi=100, facecolor='white')
